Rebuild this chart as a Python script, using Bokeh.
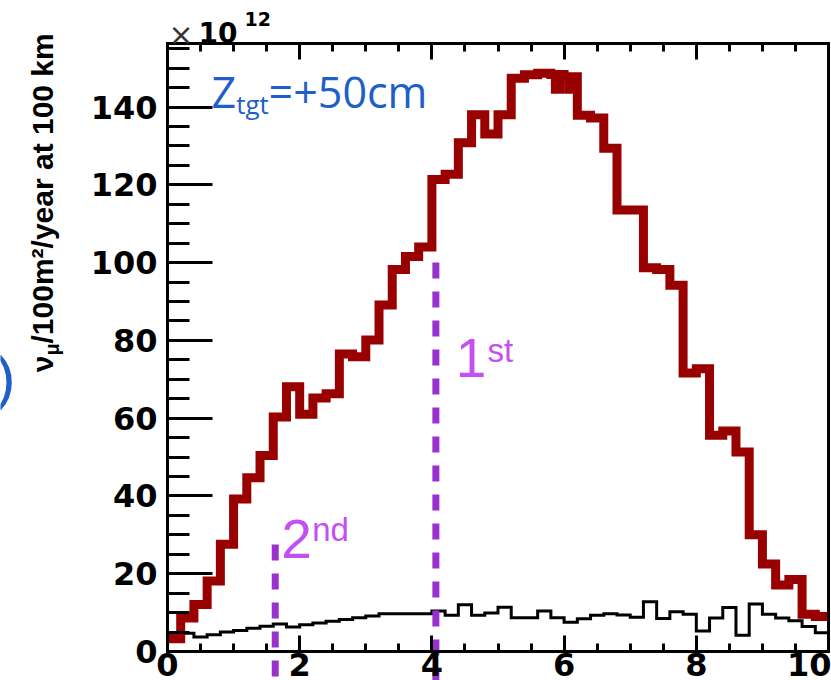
import numpy as np
from math import pi
from bokeh.plotting import figure
from bokeh.models import (Range1d, LinearAxis, SingleIntervalTicker, FixedTicker, Label,
                          CustomJSTickFormatter)
from bokeh.embed import file_html
from bokeh.resources import INLINE

# ---------------- data ----------------
x_min, x_max = 0.0, 10.0
n_bins = 50
y_min, y_max = 0.0, 156.4
# visible window around the frame (canvas spans a little more than the axes)
view_x = (-2.526, 10.045)
view_y = (-7.46, 167.4)

red_flux = [3.3, 8.6, 12.1, 18.1, 27.6, 39.2, 44.7, 50.4, 60.3, 68.1,
            61.0, 65.2, 66.3, 76.5, 75.8, 80.1, 89.1, 98.2, 101.6, 104.0,
            121.4, 122.7, 130.8, 138.0, 133.1, 138.0, 147.4, 148.3, 148.7, 148.4,
            147.8, 137.9, 137.2, 129.4, 113.5, 113.5, 98.7, 98.2, 94.2, 71.6,
            72.7, 55.6, 56.7, 51.3, 30.0, 22.5, 17.1, 18.5, 9.6, 9.0]

black_flux = [4.7, 4.7, 3.7, 4.3, 5.0, 5.4, 6.0, 6.5, 7.1, 6.3,
              6.9, 7.3, 7.8, 8.2, 8.7, 9.1, 9.7, 9.7, 9.7, 9.7,
              10.4, 9.3, 12.0, 9.3, 9.9, 11.4, 8.7, 8.7, 10.4, 8.7,
              7.5, 8.4, 9.3, 9.7, 9.4, 8.8, 12.8, 8.5, 10.2, 9.6,
              5.3, 8.6, 11.3, 4.2, 12.2, 9.6, 8.6, 7.9, 6.4, 4.8]

band_bins = [29, 30]
band_low = [143.4, 143.4]
band_high = [148.4, 147.8]

stage_x = [4.06, 1.63]
stage_top = [100.0, 27.5]

x_tick_step = 2
y_tick_step = 20

# ---------------- figure ----------------
edges = list(np.linspace(x_min, x_max, n_bins + 1))

p = figure(width=831, height=680,
           x_range=Range1d(*view_x), y_range=Range1d(*view_y),
           output_backend="svg", toolbar_location=None,
           x_axis_location=None, y_axis_location=None,
           min_border_left=0, min_border_right=0, min_border_top=0, min_border_bottom=0)
p.outline_line_color = None
p.grid.visible = False
p.background_fill_color = "white"
p.border_fill_color = "white"

TICK_FONT = "DejaVu Sans"
TICK_SIZE = "32px"
blank = CustomJSTickFormatter(code="return ''")

common = dict(axis_line_width=3, major_tick_line_width=3, minor_tick_line_width=3,
              axis_line_cap="square")

ya = LinearAxis(fixed_location=x_min, bounds=(y_min, y_max),
                ticker=SingleIntervalTicker(interval=y_tick_step, num_minor_ticks=4),
                major_tick_in=45, major_tick_out=0, minor_tick_in=22, minor_tick_out=0,
                major_label_text_font=TICK_FONT, major_label_text_font_size=TICK_SIZE,
                major_label_text_font_style="bold", major_label_text_color="black",
                major_label_standoff=10, **common)
p.add_layout(ya, "left")

xa = LinearAxis(fixed_location=y_min, bounds=(x_min, x_max),
                ticker=SingleIntervalTicker(interval=x_tick_step, num_minor_ticks=4),
                major_tick_in=16, major_tick_out=0, minor_tick_in=8, minor_tick_out=0,
                major_label_text_font=TICK_FONT, major_label_text_font_size=TICK_SIZE,
                major_label_text_font_style="bold", major_label_text_color="black",
                major_label_standoff=2, **common)
p.add_layout(xa, "below")

ta = LinearAxis(fixed_location=y_max, bounds=(x_min, x_max),
                ticker=SingleIntervalTicker(interval=x_tick_step, num_minor_ticks=4),
                major_tick_in=16, major_tick_out=0, minor_tick_in=8, minor_tick_out=0,
                formatter=blank, major_label_standoff=0, **common)
p.add_layout(ta, "above")

ra = LinearAxis(fixed_location=x_max, bounds=(y_min, y_max), ticker=FixedTicker(ticks=[]),
                major_tick_in=0, major_tick_out=0, minor_tick_in=0, minor_tick_out=0,
                formatter=blank, major_label_standoff=0, **common)
p.add_layout(ra, "right")

# ---------------- glyphs ----------------
p.step(x=edges, y=black_flux + [black_flux[-1]], mode="after",
       line_color="black", line_width=3, line_join="miter")

p.segment(x0=stage_x, y0=stage_top, x1=stage_x, y1=[view_y[0] - 5] * len(stage_x),
          line_color="#9932CC", line_width=7, line_dash="16 13")

p.quad(left=[edges[i] for i in band_bins], right=[edges[i + 1] for i in band_bins],
       bottom=band_low, top=band_high, fill_color="#990000", line_color=None)
p.step(x=edges, y=red_flux + [red_flux[-1]], mode="after",
       line_color="#990000", line_width=9, line_join="miter")

# ---------------- text ----------------
def lab(text, x, y, size, color, font, style="normal", angle=0.0):
    p.add_layout(Label(x=x, y=y, text=text, text_font_size=size, text_color=color,
                       text_font=font, text_font_style=style, angle=angle,
                       text_align="left", text_baseline="alphabetic"))

BLUE = "#1f5fc8"
lab("Z", 0.666, 144.1, "43px", BLUE, "Open Sans")
lab("tgt", 1.04, 140.9, "26px", BLUE, "Open Sans")
lab("=+50cm", 1.53, 144.1, "43px", BLUE, "Open Sans")

MAG = "#c54ff0"
lab("1", 4.36, 75.4, "55px", MAG, "Liberation Sans")
lab("st", 4.84, 77.3, "33px", MAG, "Liberation Sans")
lab("2", 1.72, 28.8, "55px", MAG, "Liberation Sans")
lab("nd", 2.19, 31.3, "33px", MAG, "Liberation Sans")

# y-axis title (rotated), built from pieces
TITLE_FONT = "Liberation Sans"
lab("\u03bd", -1.89, 71.8, "30px", "black", TITLE_FONT, "bold", pi / 2)
lab("\u03bc", -1.74, 76.1, "20px", "black", TITLE_FONT, "bold", pi / 2)
lab("/100m\u00b2/year at 100 km", -1.89, 79.2, "30px", "black", TITLE_FONT, "bold", pi / 2)

# exponent marker
lab("\u00d7", 0.015, 158.7, "30px", "#333333", "DejaVu Sans")
lab("10", 0.47, 159.2, "28px", "black", "DejaVu Sans", "bold")
lab("12", 1.165, 162.6, "19px", "black", "DejaVu Sans", "bold")

# partial blue circle at the left edge
lab(")", -2.6, 70.4, "60px", BLUE, "Liberation Sans")

open("out.html", "w").write(file_html(p, INLINE))
